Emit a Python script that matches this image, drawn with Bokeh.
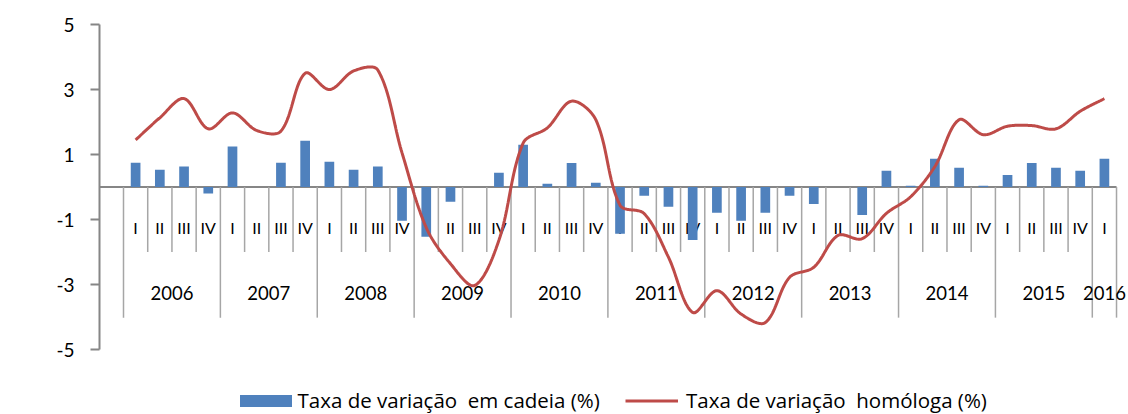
import numpy as np
from bokeh.plotting import figure
from bokeh.models import Range1d, FixedTicker, Legend, LegendItem, Label
from bokeh.core.properties import value
from bokeh.embed import file_html
from bokeh.resources import INLINE

# ---------------- data ----------------
years = ["2006", "2007", "2008", "2009", "2010", "2011",
         "2012", "2013", "2014", "2015", "2016"]
quarters_per_year = [4, 4, 4, 4, 4, 4, 4, 4, 4, 4, 1]
quarter_names = ["I", "II", "III", "IV"]

chain = [0.75, 0.53, 0.63, -0.20,
         1.25, 0.00, 0.75, 1.42,
         0.78, 0.53, 0.63, -1.04,
         -1.53, -0.45, 0.00, 0.44,
         1.30, 0.10, 0.74, 0.13,
         -1.44, -0.27, -0.61, -1.63,
         -0.79, -1.04, -0.79, -0.27,
         -0.52, 0.00, -0.86, 0.50,
         0.04, 0.87, 0.59, 0.04,
         0.37, 0.74, 0.59, 0.50,
         0.87]

yoy = [1.45, 2.13, 2.72, 1.79,
       2.28, 1.74, 1.72, 3.50,
       3.00, 3.57, 3.60, 1.05,
       -1.25, -2.36, -3.03, -1.64,
       1.35, 1.82, 2.64, 2.07,
       -0.56, -0.82, -2.16, -3.86,
       -3.19, -3.91, -4.17, -2.78,
       -2.47, -1.49, -1.59, -0.81,
       -0.30, 0.63, 2.07, 1.61,
       1.87, 1.89, 1.79, 2.33,
       2.72]

y_ticks = [-5, -3, -1, 1, 3, 5]

series_names = ["Taxa de variação\u00a0 em cadeia (%)",
                "Taxa de variação\u00a0 homóloga (%)"]

# ---------------- derived ----------------
FONT = "Lato"
LEG_FONT = "Open Sans"
BLUE = "#4F81BD"
RED = "#BE4B48"
GREY = "#868686"

q_labels = []
q_year = []
for y, cnt in zip(years, quarters_per_year):
    for k in range(cnt):
        q_labels.append(quarter_names[k])
        q_year.append(y)
n = len(chain)
idx = np.arange(n, dtype=float)

# pixel scales of the frame (used only to smooth the line like a spreadsheet)
XS, YS = 24.22, 32.5
P = np.column_stack([idx * XS, np.array(yoy, dtype=float) * YS])
sx, sy = [], []
for i in range(n - 1):
    p0 = P[i - 1] if i > 0 else P[i]
    p1 = P[i]
    p2 = P[i + 1]
    p3 = P[i + 2] if i + 2 < n else P[i + 1]
    d01 = np.hypot(*(p1 - p0))
    d12 = np.hypot(*(p2 - p1))
    d23 = np.hypot(*(p3 - p2))
    b1 = p1 + (p2 - p0) * (d12 / (d01 + d12)) / 3.0
    b2 = p2 - (p3 - p1) * (d12 / (d12 + d23)) / 3.0
    t = np.linspace(0, 1, 30)
    if i < n - 2:
        t = t[:-1]
    for tt in t:
        pt = ((1 - tt) ** 3) * p1 + 3 * ((1 - tt) ** 2) * tt * b1 \
            + 3 * (1 - tt) * tt ** 2 * b2 + tt ** 3 * p2
        sx.append(pt[0] / XS)
        sy.append(pt[1] / YS)

# ---------------- figure ----------------
x_start = -1.491
x_end = n - 0.5 + (1128 - 123 - n * XS) / XS
p = figure(width=1128, height=414, output_backend="svg", toolbar_location=None,
           x_range=Range1d(x_start, x_end), y_range=Range1d(-7.0, 5),
           x_axis_location=None, y_axis_location="left",
           min_border_left=99, min_border_right=0, min_border_top=24, min_border_bottom=0)
p.outline_line_color = None
p.grid.visible = False
p.background_fill_color = "white"
p.border_fill_color = "white"

ax = p.yaxis[0]
ax.ticker = FixedTicker(ticks=y_ticks)
ax.bounds = (min(y_ticks), max(y_ticks))
ax.major_label_overrides = {t: str(t) for t in y_ticks}
ax.axis_line_color = GREY
ax.axis_line_width = 2
ax.major_tick_line_color = GREY
ax.major_tick_line_width = 2
ax.major_tick_out = 9
ax.major_tick_in = 0
ax.minor_tick_line_color = None
ax.major_label_text_font = FONT
ax.major_label_text_font_size = "19px"
ax.major_label_text_color = "black"
ax.major_label_standoff = 16

# category axis at zero
p.segment(x0=[x_start], y0=[0], x1=[n - 0.5], y1=[0], line_color=GREY, line_width=2)

year_bounds = [i - 0.5 for i in range(n) if q_labels[i] == "I"] + [n - 0.5]
quarter_bounds = [i - 0.5 for i in range(n) if q_labels[i] != "I"]
p.segment(x0=quarter_bounds, y0=[0] * len(quarter_bounds), x1=quarter_bounds,
          y1=[-2.0] * len(quarter_bounds), line_color="#A6A6A6", line_width=1.5)
p.segment(x0=year_bounds, y0=[0] * len(year_bounds), x1=year_bounds,
          y1=[-4.02] * len(year_bounds), line_color="#A6A6A6", line_width=1.5)

p.text(x=list(idx), y=[-1.25] * n, text=q_labels, text_align="center",
       text_baseline="middle", text_font=value(FONT), text_font_size="16px",
       text_color="black")

year_centers = [float(np.mean([i for i in range(n) if q_year[i] == y])) for y in years]
p.text(x=year_centers, y=[-3.27] * len(years), text=years, text_align="center",
       text_baseline="middle", text_font=value(FONT), text_font_size="18.5px",
       text_color="black")

r_bar = p.vbar(x=list(idx), top=chain, bottom=0, width=0.4, fill_color=BLUE, line_color=None)
r_line = p.line(x=sx, y=sy, line_color=RED, line_width=3)

p.add_layout(Label(x=-4.753, y=-0.05, text="%", text_font=FONT, text_font_size="19px",
                   text_font_style="bold", text_align="center", text_baseline="middle",
                   text_color="black"))

leg_common = dict(padding=0, margin=0, spacing=0, border_line_color=None,
                  background_fill_alpha=0, label_text_font=LEG_FONT,
                  label_text_font_size="20.5px", label_text_color="black",
                  glyph_height=15, label_height=15, orientation="horizontal")
leg1 = Legend(items=[LegendItem(label=series_names[0], renderers=[r_bar])],
              location=(133.5, 0), glyph_width=65, label_standoff=0, **leg_common)
leg2 = Legend(items=[LegendItem(label=series_names[1], renderers=[r_line])],
              location=(526, 0), glyph_width=53, label_standoff=8, **leg_common)
p.add_layout(leg1)
p.add_layout(leg2)

open("out.html", "w").write(file_html(p, INLINE))
